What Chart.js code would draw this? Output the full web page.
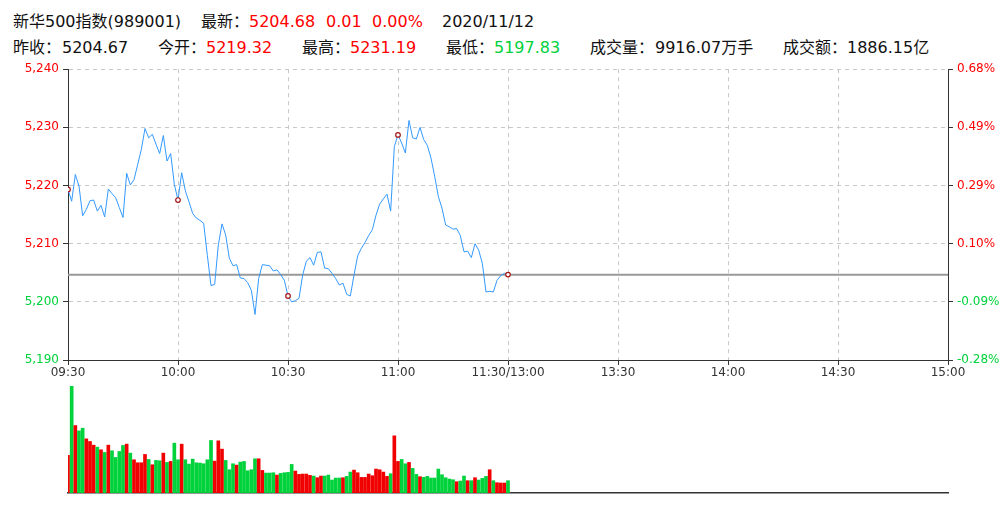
<!DOCTYPE html>
<html>
<head>
<meta charset="utf-8">
<script src="https://cdn.jsdelivr.net/npm/chart.js@4/dist/chart.umd.min.js"></script>
<style>
    body { margin: 0; background: #fff; width: 1008px; height: 516px; overflow: hidden; position: relative; }
    .hd { position: absolute; font: 16px "DejaVu Sans", "Noto Sans CJK SC", sans-serif; line-height: 20px; color: #111; white-space: pre; }
    .up { color: #ff0000; }
    .down { color: #00d23c; }
    #priceBox { position: absolute; left: 0; top: 58px; width: 1008px; height: 334px; }
    #volBox { position: absolute; left: 0; top: 380px; width: 1008px; height: 114px; }
</style>
</head>
<body>
<div class="hd" style="left:13px;top:12px">新华500指数(989001)</div>
<div class="hd" style="left:201px;top:12px">最新：</div>
<div class="hd up" style="left:249px;top:12px">5204.68</div>
<div class="hd up" style="left:326px;top:12px">0.01</div>
<div class="hd up" style="left:372px;top:12px">0.00%</div>
<div class="hd" style="left:442px;top:12px">2020/11/12</div>

<div class="hd" style="left:13px;top:38px">昨收：</div>
<div class="hd" style="left:62px;top:38px">5204.67</div>
<div class="hd" style="left:158px;top:38px">今开：</div>
<div class="hd up" style="left:206px;top:38px">5219.32</div>
<div class="hd" style="left:302px;top:38px">最高：</div>
<div class="hd up" style="left:350px;top:38px">5231.19</div>
<div class="hd" style="left:446px;top:38px">最低：</div>
<div class="hd down" style="left:494px;top:38px">5197.83</div>
<div class="hd" style="left:590px;top:38px">成交量：</div>
<div class="hd" style="left:655px;top:38px">9916.07万手</div>
<div class="hd" style="left:783px;top:38px">成交额：</div>
<div class="hd" style="left:847px;top:38px">1886.15亿</div>

<div id="priceBox"><canvas id="priceChart" width="1008" height="334"></canvas></div>
<div id="volBox"><canvas id="volChart" width="1008" height="114"></canvas></div>

<script>
// one point per minute, 09:30 .. 11:30
const prevClose = 5204.67;

const prices = [
    5219.32, 5217.3, 5221.9, 5219.9, 5214.8, 5215.9, 5217.4, 5217.5, 5215.6, 5216.6,
    5214.6, 5219.4, 5218.6, 5217.9, 5216.2, 5214.5, 5222.1, 5220.1, 5221.0, 5223.6,
    5226.2, 5229.8, 5228.2, 5228.8, 5227.1, 5225.5, 5228.6, 5224.2, 5225.5, 5220.2,
    5217.5, 5222.2, 5219.1, 5217.2, 5215.2, 5214.4, 5214.0, 5213.5, 5208.0, 5202.8,
    5203.0, 5209.8, 5213.4, 5211.5, 5207.5, 5206.2, 5206.4, 5204.1, 5204.0, 5203.3,
    5202.0, 5197.83, 5204.0, 5206.4, 5206.3, 5206.2, 5205.3, 5205.5, 5204.7, 5203.7,
    5201.0, 5200.0, 5200.2, 5200.6, 5204.6, 5207.0, 5207.6, 5206.3, 5208.5, 5208.6,
    5205.8, 5205.7, 5204.9, 5204.0, 5202.9, 5203.2, 5201.3, 5201.0, 5204.6, 5207.9,
    5209.2, 5210.2, 5211.4, 5212.4, 5214.9, 5216.8, 5217.7, 5218.5, 5215.6, 5226.7,
    5228.7, 5227.3, 5225.6, 5231.19, 5228.2, 5228.0, 5230.0, 5227.9, 5226.9, 5224.7,
    5221.6, 5218.1, 5216.1, 5213.2, 5212.9, 5212.5, 5212.6, 5211.4, 5208.6, 5208.7,
    5207.6, 5210.0, 5208.9, 5206.6, 5201.7, 5201.8, 5201.7, 5203.7, 5204.5, 5204.9,
    5204.68
];

// 万手
const volumes = [
    113, 322, 203, 187, 195, 163, 155, 144, 138, 130, 122, 144, 127, 107, 125, 143,
    147, 120, 100, 91, 91, 116, 101, 85, 98, 97, 120, 92, 95, 150, 100, 147,
    100, 87, 102, 91, 90, 88, 100, 158, 96, 157, 132, 98, 70, 88, 84, 93,
    95, 67, 70, 103, 103, 68, 60, 60, 61, 54, 59, 61, 62, 86, 66, 56,
    57, 57, 53, 51, 46, 51, 51, 54, 39, 45, 45, 46, 50, 63, 69, 61,
    47, 47, 57, 52, 72, 70, 63, 50, 58, 172, 95, 101, 88, 92, 74, 56,
    49, 47, 50, 45, 45, 72, 55, 46, 42, 40, 34, 36, 51, 37, 37, 46,
    39, 44, 50, 70, 37, 31, 30, 30, 37
];

const timeLabels = ['09:30', '10:00', '10:30', '11:00', '11:30/13:00', '13:30', '14:00', '14:30', '15:00'];
const priceTicks = [5190, 5200, 5210, 5220, 5230, 5240];

const RED = '#ff0000';
const GREEN = '#00d23c';
const AXIS = '#333333';
const GRID = '#c8c8c8';
const FONT = { family: '"DejaVu Sans", sans-serif', size: 12 };

const totalMinutes = 240;

let pricePoints = prices.map((p, i) => ({ x: i, y: p }));
let volPoints = volumes.map((v, i) => ({ x: i, y: v }));
let volColors = prices.map((p, i) => {
    let before = i === 0 ? prevClose : prices[i - 1];
    return p >= before ? '#f00000' : GREEN;
});

function tickColor(ctx) {
    let v = ctx.tick.value;
    return v > prevClose ? RED : GREEN;
}

new Chart(document.getElementById('priceChart'), {
    type: 'line',
    data: {
        datasets: [{
            data: pricePoints,
            borderColor: '#3399ff',
            borderWidth: 1,
            tension: 0,
            pointRadius: ctx => (ctx.dataIndex % 30 === 0 ? 2.3 : 0),
            pointBorderColor: '#a31515',
            pointBackgroundColor: '#ffffff',
            pointBorderWidth: 1.2,
            order: 1
        }, {
            data: [{ x: 0, y: prevClose }, { x: totalMinutes, y: prevClose }],
            borderColor: '#999999',
            borderWidth: 2,
            pointRadius: 0,
            order: 2
        }]
    },
    options: {
        responsive: false,
        animation: false,
        devicePixelRatio: 1,
        layout: { padding: { top: 8, left: 0, right: 0, bottom: 0 } },
        plugins: { legend: { display: false }, tooltip: { enabled: false } },
        scales: {
            x: {
                type: 'linear',
                min: 0,
                max: totalMinutes,
                afterBuildTicks: s => { s.ticks = timeLabels.map((l, i) => ({ value: i * 30 })); },
                afterFit: s => { s.height = 32; },
                ticks: {
                    callback: (v, i) => timeLabels[i],
                    color: AXIS,
                    font: FONT,
                    padding: 1,
                    maxRotation: 0,
                    autoSkip: false
                },
                grid: {
                    color: ctx => (ctx.index === 0 || ctx.index === timeLabels.length - 1) ? 'rgba(0,0,0,0)' : GRID,
                    tickColor: AXIS,
                    tickLength: 5,
                    tickBorderDash: []
                },
                border: { color: AXIS, width: 1, dash: [4, 4] }
            },
            y: {
                position: 'left',
                min: 5190,
                max: 5240,
                afterBuildTicks: s => { s.ticks = priceTicks.map(v => ({ value: v })); },
                afterFit: s => { s.width = 68; },
                ticks: {
                    callback: v => v.toLocaleString('en-US'),
                    color: tickColor,
                    font: FONT,
                    padding: 4
                },
                grid: {
                    color: ctx => ctx.index === 0 ? 'rgba(0,0,0,0)' : GRID,
                    tickColor: AXIS,
                    tickLength: 5,
                    tickBorderDash: []
                },
                border: { color: AXIS, width: 1, dash: [4, 4] }
            },
            y2: {
                position: 'right',
                min: 5190,
                max: 5240,
                afterBuildTicks: s => { s.ticks = priceTicks.map(v => ({ value: v })); },
                afterFit: s => { s.width = 60; },
                ticks: {
                    callback: v => ((v - prevClose) / prevClose * 100).toFixed(2) + '%',
                    color: tickColor,
                    font: FONT,
                    padding: 4
                },
                grid: {
                    drawOnChartArea: false,
                    tickColor: AXIS,
                    tickLength: 5
                },
                border: { color: AXIS, width: 1 }
            }
        }
    }
});

new Chart(document.getElementById('volChart'), {
    type: 'bar',
    data: {
        datasets: [{
            data: volPoints,
            backgroundColor: volColors,
            barThickness: 3,
            borderWidth: 0
        }]
    },
    options: {
        responsive: false,
        animation: false,
        devicePixelRatio: 1,
        layout: { padding: { top: 6, left: 68, right: 60, bottom: 1 } },
        plugins: { legend: { display: false }, tooltip: { enabled: false } },
        scales: {
            x: {
                type: 'linear',
                min: 0,
                max: totalMinutes,
                offset: false,
                afterFit: s => { s.height = 0; },
                ticks: { display: false },
                grid: { display: false, drawTicks: false },
                border: { display: true, color: AXIS, width: 1.5 }
            },
            y: {
                display: false,
                min: 0,
                max: Math.max(...volumes)
            }
        }
    }
});
</script>
</body>
</html>
